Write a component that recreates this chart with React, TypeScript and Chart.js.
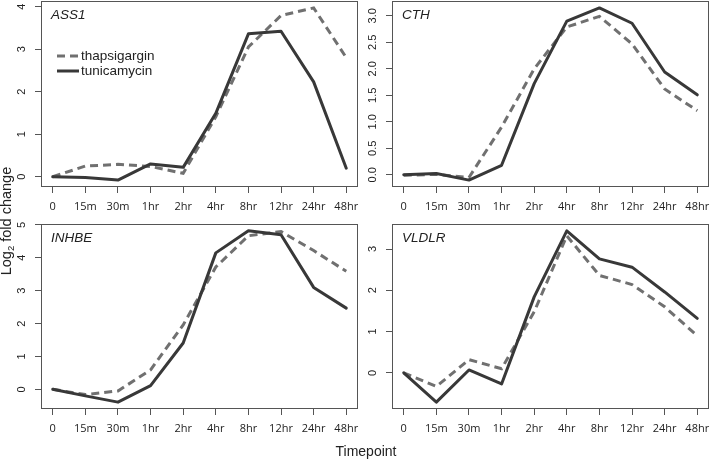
import React, { useEffect, useRef } from 'react';
import { Chart, registerables } from 'chart.js';

Chart.register(...registerables);

const timepoints = ['0', '15m', '30m', '1hr', '2hr', '4hr', '8hr', '12hr', '24hr', '48hr'];
const seriesNames = ['thapsigargin', 'tunicamycin'];

const ass1Thapsigargin = [0, 0.25, 0.29, 0.24, 0.08, 1.41, 3.05, 3.79, 3.97, 2.8];
const ass1Tunicamycin = [0, -0.02, -0.08, 0.3, 0.22, 1.49, 3.36, 3.42, 2.23, 0.2];
const cthThapsigargin = [-0.01, 0.01, -0.05, 0.9, 2.0, 2.79, 2.99, 2.47, 1.62, 1.21];
const cthTunicamycin = [0, 0.025, -0.1, 0.18, 1.72, 2.9, 3.15, 2.86, 1.94, 1.51];
const inhbeThapsigargin = [0, -0.16, -0.05, 0.59, 1.96, 3.72, 4.67, 4.8, 4.22, 3.59];
const inhbeTunicamycin = [0, -0.2, -0.39, 0.11, 1.41, 4.15, 4.82, 4.7, 3.1, 2.47];
const vldlrThapsigargin = [0, -0.33, 0.32, 0.1, 1.48, 3.32, 2.36, 2.14, 1.6, 0.9];
const vldlrTunicamycin = [0, -0.71, 0.07, -0.27, 1.84, 3.44, 2.76, 2.56, 1.96, 1.32];

const ass1Ticks = [0, 1, 2, 3, 4];
const cthTicks = [0, 0.5, 1, 1.5, 2, 2.5, 3];
const inhbeTicks = [0, 1, 2, 3, 4, 5];
const vldlrTicks = [0, 1, 2, 3];

const SOLID = '#383838';
const DASHED = '#707070';
const AXIS = '#555555';
const TEXT = '#222222';

type PanelProps = {
  title: string;
  thap: number[];
  tun: number[];
  yTicks: number[];
  decimals: number;
  left: number;
  top: number;
  width: number;
  height: number;
  padTop: number;
  padRight: number;
  labelPad: number;
  legend?: boolean;
};

function Panel(p: PanelProps) {
  const ref = useRef<HTMLCanvasElement>(null);
  useEffect(() => {
    const all = [...p.thap, ...p.tun];
    const lo = Math.min(...all);
    const hi = Math.max(...all);
    const ext = (hi - lo) * 0.04;
    const xExt = (timepoints.length - 1) * 0.04;

    const decor = {
      id: 'decor',
      afterDraw(chart: any) {
        const { ctx, chartArea: a } = chart;
        ctx.save();
        ctx.strokeStyle = AXIS;
        ctx.lineWidth = 1;
        const l = Math.round(a.left) + 0.5;
        const t = Math.round(a.top) + 0.5;
        const r = Math.round(a.right) - 0.5;
        const b = Math.round(a.bottom) - 0.5;
        ctx.strokeRect(l, t, r - l, b - t);
        ctx.fillStyle = TEXT;
        ctx.font = 'italic 13.5px "Liberation Sans"';
        ctx.textBaseline = 'middle';
        ctx.textAlign = 'left';
        ctx.fillText(p.title, a.left + 10, a.top + 14);
        if (p.legend) {
          const ds = chart.data.datasets;
          ctx.font = '13.5px "Liberation Sans"';
          ds.forEach((d: any, i: number) => {
            const y = a.top + 55 + i * 15;
            ctx.beginPath();
            ctx.strokeStyle = d.borderColor;
            ctx.lineWidth = 3;
            ctx.setLineDash(d.borderDash || []);
            ctx.moveTo(a.left + 16, y);
            ctx.lineTo(a.left + 38, y);
            ctx.stroke();
            ctx.setLineDash([]);
            ctx.fillStyle = TEXT;
            ctx.fillText(d.label, a.left + 40, y);
          });
        }
        ctx.restore();
      },
    };

    const chart = new Chart(ref.current as HTMLCanvasElement, {
      type: 'line',
      data: {
        datasets: [
          {
            label: seriesNames[0],
            data: p.thap.map((y, i) => ({ x: i, y })),
            borderColor: DASHED,
            borderWidth: 3,
            borderDash: [8, 5],
            borderCapStyle: 'butt',
            pointRadius: 0,
            tension: 0,
            order: 1,
          },
          {
            label: seriesNames[1],
            data: p.tun.map((y, i) => ({ x: i, y })),
            borderColor: SOLID,
            borderWidth: 3,
            borderCapStyle: 'round',
            borderJoinStyle: 'round',
            pointRadius: 0,
            tension: 0,
            order: 0,
          },
        ],
      },
      options: {
        responsive: false,
        maintainAspectRatio: false,
        animation: false,
        events: [],
        layout: { padding: { left: 0, top: p.padTop, right: p.padRight, bottom: 0 } },
        plugins: { legend: { display: false }, tooltip: { enabled: false } },
        scales: {
          x: {
            type: 'linear',
            position: 'bottom',
            min: -xExt,
            max: timepoints.length - 1 + xExt,
            afterBuildTicks: (s: any) => {
              s.ticks = timepoints.map((_, i) => ({ value: i }));
            },
            afterFit: (s: any) => {
              s.height = 35;
              s.paddingLeft = 0;
              s.paddingRight = 0;
            },
            ticks: {
              autoSkip: false,
              maxRotation: 0,
              padding: 7,
              color: TEXT,
              font: { family: '"Open Sans"', size: 11 },
              callback: (v: any) => timepoints[Math.round(Number(v))],
            },
            grid: { display: true, drawOnChartArea: false, drawTicks: true, tickLength: 6, color: AXIS, tickColor: AXIS },
            border: { display: false },
          },
          y: {
            type: 'linear',
            position: 'left',
            min: lo - ext,
            max: hi + ext,
            afterBuildTicks: (s: any) => {
              s.ticks = p.yTicks.map((v) => ({ value: v }));
            },
            afterFit: (s: any) => {
              s.width = 27;
              s.paddingTop = 0;
              s.paddingBottom = 0;
            },
            ticks: {
              autoSkip: false,
              minRotation: 90,
              maxRotation: 90,
              crossAlign: 'center',
              padding: p.labelPad,
              color: TEXT,
              font: { family: '"Liberation Sans"', size: 11 },
              callback: (v: any) => Number(v).toFixed(p.decimals),
            },
            grid: { display: true, drawOnChartArea: false, drawTicks: true, tickLength: 6, color: AXIS, tickColor: AXIS },
            border: { display: false },
          },
        },
      },
      plugins: [decor],
    } as any);
    return () => chart.destroy();
  }, []);
  return (
    <canvas
      ref={ref}
      width={p.width}
      height={p.height}
      style={{ position: 'absolute', left: p.left, top: p.top, width: p.width, height: p.height, display: 'block' }}
    />
  );
}

export default function App() {
  return (
    <div style={{ position: 'absolute', left: 0, top: 0, width: 711, height: 462, background: '#fff', overflow: 'hidden', fontFamily: '"Liberation Sans", Arial, sans-serif' }}>
      <Panel title="ASS1" thap={ass1Thapsigargin} tun={ass1Tunicamycin} yTicks={ass1Ticks} decimals={0}
        left={14} top={0} width={348} height={222} padTop={1} padRight={4} labelPad={10} legend />
      <Panel title="CTH" thap={cthThapsigargin} tun={cthTunicamycin} yTicks={cthTicks} decimals={1}
        left={365} top={0} width={346} height={222} padTop={1} padRight={2} labelPad={5.5} />
      <Panel title="INHBE" thap={inhbeThapsigargin} tun={inhbeTunicamycin} yTicks={inhbeTicks} decimals={0}
        left={14} top={222} width={348} height={222} padTop={2} padRight={4} labelPad={10} />
      <Panel title="VLDLR" thap={vldlrThapsigargin} tun={vldlrTunicamycin} yTicks={vldlrTicks} decimals={0}
        left={365} top={222} width={346} height={222} padTop={2} padRight={2} labelPad={10} />
      <div style={{ position: 'absolute', left: 316, width: 100, top: 442, textAlign: 'center', fontSize: 14, color: TEXT, lineHeight: '18px' }}>
        Timepoint
      </div>
      <div style={{ position: 'absolute', left: 6 - 100, top: 221 - 9, width: 200, height: 18, lineHeight: '18px', textAlign: 'center', transform: 'rotate(-90deg)', whiteSpace: 'nowrap', fontSize: 14.5, color: TEXT }}>
        Log<sub style={{ fontSize: 9.5, verticalAlign: '-3px', lineHeight: 0 }}>2</sub> fold change
      </div>
    </div>
  );
}
